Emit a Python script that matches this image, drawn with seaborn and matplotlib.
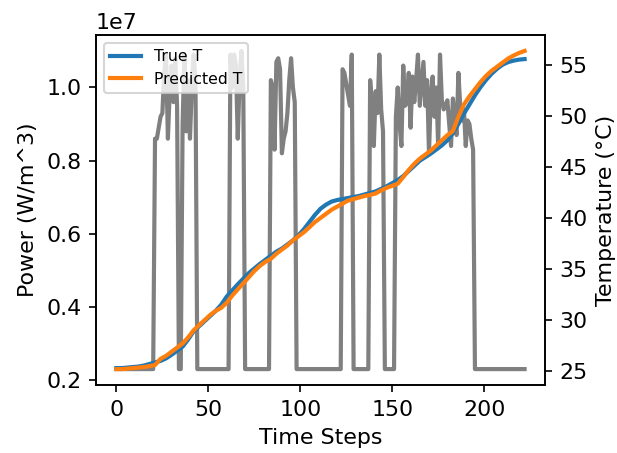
import numpy as np
import matplotlib
matplotlib.use("Agg")
import matplotlib.pyplot as plt
import seaborn as sns

################################################################################
# Data
################################################################################

# power source, in units of 1e6 W/m^3, one value per time step (0..222)
power_1e6 = (
    [2.3] * 21
    + [8.6, 8.6, 8.9, 9.2, 9.3, 10.4, 10.9, 8.6, 9.9, 10.6, 9.6, 10.8, 9.5]
    + [2.3] * 2
    + [9.0, 10.9, 8.8, 10.2, 8.6, 10.0, 10.9, 10.2]
    + [2.3] * 18
    + [10.9, 10.0, 10.9, 10.6, 8.6, 10.2, 11.0, 10.0]
    + [2.3] * 14
    + [10.2, 10.0, 8.3, 10.7, 10.8, 10.5, 8.2, 8.6, 8.8, 9.3, 10.2, 10.8, 10.0, 9.6]
    + [2.3] * 25
    + [10.5, 10.4, 10.1, 9.8, 9.5, 10.9]
    + [2.3] * 9
    + [10.2, 9.5, 8.4, 9.9, 9.3, 10.9, 9.4, 8.8]
    + [2.3] * 6
    + [9.2, 10.0, 9.0, 8.4, 10.6, 9.5, 9.6, 10.4, 8.9, 10.3,
       9.6, 10.2, 10.9, 9.5, 10.1, 10.7, 9.5, 10.2, 8.2, 9.8,
       10.3, 9.2, 10.0, 8.4, 10.9, 9.65, 9.4, 9.5, 9.65, 9.0,
       8.4, 9.7, 9.1, 8.7, 10.4, 9.5, 9.1, 9.4, 8.4, 9.1,
       9.0, 8.6, 8.3]
    + [2.3] * 28
)
time_steps = np.arange(len(power_1e6))
power = np.array(power_1e6) * 1e6

# temperatures, read every 3 time steps
time_T = np.arange(0, 223, 3)
true_T = [25.3, 25.3, 25.35, 25.4, 25.45, 25.55, 25.7, 25.85, 26.0, 26.25,
          26.6, 27.0, 27.4, 28.1, 28.9, 29.4, 29.9, 30.4, 30.9, 31.5,
          32.3, 32.9, 33.5, 34.05, 34.6, 35.05, 35.5, 35.9, 36.3, 36.7,
          37.0, 37.4, 37.8, 38.3, 38.9, 39.6, 40.3, 40.9, 41.3, 41.6,
          41.75, 41.85, 41.95, 42.05, 42.15, 42.3, 42.45, 42.6, 42.85, 43.1,
          43.4, 43.7, 44.1, 44.6, 45.1, 45.6, 45.95, 46.3, 46.7, 47.1,
          47.6, 48.3, 49.2, 50.2, 51.1, 52.0, 52.8, 53.5, 54.1, 54.6,
          55.0, 55.25, 55.4, 55.5, 55.55]
pred_T = [25.2, 25.2, 25.25, 25.3, 25.35, 25.4, 25.5, 25.6, 26.2, 26.5,
          26.9, 27.3, 27.7, 28.3, 29.0, 29.5, 30.0, 30.5, 30.9, 31.2,
          31.7, 32.4, 33.0, 33.6, 34.2, 34.8, 35.3, 35.7, 36.0, 36.5,
          36.9, 37.3, 37.8, 38.2, 38.6, 39.1, 39.6, 40.0, 40.4, 40.8,
          41.1, 41.4, 41.7, 41.85, 42.0, 42.15, 42.25, 42.4, 42.7, 42.95,
          43.15, 43.35, 44.0, 44.7, 45.3, 45.8, 46.2, 46.6, 47.1, 47.6,
          48.1, 48.5, 49.9, 51.1, 51.9, 52.6, 53.3, 53.9, 54.4, 54.8,
          55.2, 55.6, 55.9, 56.15, 56.35]

################################################################################
# Plot
################################################################################

plt.rcParams['font.size'] = 10.6

fig, ax1 = plt.subplots(figsize=(617 / 150, 453 / 150), dpi=150)
fig.subplots_adjust(left=0.1556, right=0.8833, top=0.9227, bottom=0.1501)

sns.lineplot(x=time_steps, y=power, ax=ax1, color='gray', lw=2)
ax1.set_xlabel('Time Steps')
ax1.set_ylabel('Power (W/m^3)')

ax2 = ax1.twinx()
sns.lineplot(x=time_T, y=true_T, ax=ax2, color='#1f77b4', lw=2, label='True T')
sns.lineplot(x=time_T, y=pred_T, ax=ax2, color='#ff7f0e', lw=2, label='Predicted T')
ax2.set_ylabel('Temperature (°C)')
ax2.legend(loc='upper left', fontsize=7.5)

fig.savefig('out.png', dpi=150)
